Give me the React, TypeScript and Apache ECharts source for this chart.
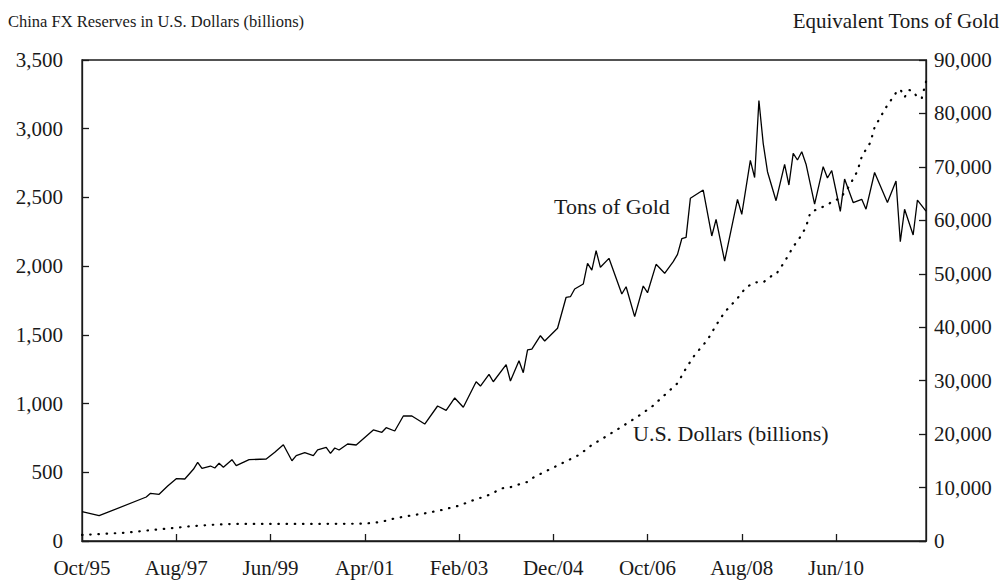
import React, { useEffect, useRef } from "react";
import * as echarts from "echarts";

// Monthly categories Oct/95 .. Mar/12
const MONTHS = ["Jan", "Feb", "Mar", "Apr", "May", "Jun", "Jul", "Aug", "Sep", "Oct", "Nov", "Dec"];
const START_YEAR = 1995;
const START_MONTH = 9; // October
const MONTH_COUNT = 198;
const categories: string[] = [];
for (let i = 0; i < MONTH_COUNT; i++) {
  const k = START_MONTH + i;
  const y = START_YEAR + Math.floor(k / 12);
  categories.push(MONTHS[k % 12] + "/" + String(y % 100).padStart(2, "0"));
}

// Equivalent tons of gold (right axis) – vertices
const goldTons: [string, number][] = [
  ["Oct/95", 5480], ["Feb/96", 4730], ["Jan/97", 8230], ["Feb/97", 8925], ["Apr/97", 8740],
  ["Jun/97", 10290], ["Aug/97", 11660], ["Oct/97", 11600], ["Dec/97", 13415], ["Jan/98", 14725],
  ["Feb/98", 13600], ["Apr/98", 14030], ["May/98", 13660], ["Jun/98", 14540], ["Jul/98", 13790],
  ["Sep/98", 15210], ["Oct/98", 14090], ["Jan/99", 15210], ["May/99", 15340], ["Jul/99", 16600],
  ["Sep/99", 18020], ["Nov/99", 15020], ["Dec/99", 15960], ["Feb/00", 16520], ["Apr/00", 15960],
  ["May/00", 17030], ["Jul/00", 17530], ["Aug/00", 16410], ["Sep/00", 17400], ["Oct/00", 17030],
  ["Dec/00", 18150], ["Feb/01", 17960], ["Jun/01", 20770], ["Aug/01", 20340], ["Sep/01", 21200],
  ["Nov/01", 20580], ["Jan/02", 23390], ["Mar/02", 23390], ["Jun/02", 21890], ["Sep/02", 25260],
  ["Nov/02", 24450], ["Jan/03", 26760], ["Mar/03", 25020], ["Jun/03", 29800], ["Jul/03", 29000],
  ["Sep/03", 31190], ["Oct/03", 29800], ["Jan/04", 32990], ["Feb/04", 29940], ["Apr/04", 33730],
  ["May/04", 31490], ["Jun/04", 35740], ["Jul/04", 35920], ["Sep/04", 38410], ["Oct/04", 37420],
  ["Jan/05", 39800], ["Mar/05", 45600], ["Apr/05", 45710], ["May/05", 47150], ["Jul/05", 48080],
  ["Aug/05", 51960], ["Sep/05", 50700], ["Oct/05", 54310], ["Nov/05", 51210], ["Jan/06", 52890],
  ["Apr/06", 46210], ["May/06", 47580], ["Jul/06", 41970], ["Sep/06", 47710], ["Oct/06", 46460],
  ["Dec/06", 51770], ["Feb/07", 50090], ["Apr/07", 52260], ["May/07", 53640], ["Jun/07", 56560],
  ["Jul/07", 56820], ["Aug/07", 64120], ["Nov/07", 65670], ["Jan/08", 57070], ["Feb/08", 60190],
  ["Apr/08", 52390], ["Jul/08", 63930], ["Aug/08", 61130], ["Oct/08", 71230], ["Nov/08", 68010],
  ["Dec/08", 82420], ["Jan/09", 74410], ["Feb/09", 69100], ["Apr/09", 63670], ["Jun/09", 70480],
  ["Jul/09", 66610], ["Aug/09", 72540], ["Sep/09", 71290], ["Oct/09", 72840], ["Nov/09", 70500],
  ["Jan/10", 63020], ["Mar/10", 70030], ["Apr/10", 67920], ["May/10", 69320], ["Jun/10", 65490],
  ["Jul/10", 61690], ["Aug/10", 67730], ["Oct/10", 63330], ["Dec/10", 63930], ["Jan/11", 62080],
  ["Mar/11", 68950], ["Jun/11", 63330], ["Aug/11", 67360], ["Sep/11", 56000], ["Oct/11", 62060],
  ["Dec/11", 57250], ["Jan/12", 63800], ["Mar/12", 61740],
];

// FX reserves in U.S. dollars, billions (left axis)
const usdBillions: [string, number][] = [
  ["Oct/95", 44], ["Aug/96", 60], ["Apr/97", 85], ["Aug/97", 97], ["Dec/97", 109],
  ["May/98", 119], ["Sep/98", 124], ["Sep/99", 124], ["Feb/00", 124], ["Apr/01", 126],
  ["Aug/01", 140], ["Nov/01", 165], ["Mar/02", 187], ["Jun/02", 201], ["Oct/02", 226],
  ["Feb/03", 257], ["May/03", 293], ["Sep/03", 335], ["Dec/03", 383], ["Feb/04", 391],
  ["Apr/04", 412], ["Jun/04", 430], ["Jul/04", 456], ["Oct/04", 504], ["Feb/05", 565],
  ["Jun/05", 626], ["Sep/05", 699], ["Dec/05", 755], ["Apr/06", 832], ["Aug/06", 912],
  ["Nov/06", 977], ["Feb/07", 1062], ["May/07", 1148], ["Jul/07", 1257], ["Sep/07", 1353],
  ["Dec/07", 1463], ["Feb/08", 1570], ["Apr/08", 1665], ["Jul/08", 1766], ["Sep/08", 1846],
  ["Nov/08", 1882], ["Jan/09", 1882], ["Mar/09", 1930], ["Apr/09", 1941], ["Jun/09", 2032],
  ["Aug/09", 2141], ["Oct/09", 2227], ["Nov/09", 2287], ["Dec/09", 2390], ["Feb/10", 2420],
  ["Apr/10", 2445], ["May/10", 2469], ["Jul/10", 2494], ["Aug/10", 2537], ["Sep/10", 2578],
  ["Nov/10", 2692], ["Dec/10", 2796], ["Jan/11", 2850], ["Feb/11", 2898], ["Mar/11", 3010],
  ["May/11", 3119], ["Jun/11", 3172], ["Jul/11", 3216], ["Aug/11", 3262], ["Sep/11", 3287],
  ["Oct/11", 3229], ["Nov/11", 3282], ["Dec/11", 3274], ["Jan/12", 3226], ["Feb/12", 3221],
  ["Mar/12", 3342],
];

const LEFT_TITLE = "China FX Reserves in U.S. Dollars (billions)";
const RIGHT_TITLE = "Equivalent Tons of Gold";
const GOLD_LABEL = "Tons of Gold";
const USD_LABEL = "U.S. Dollars (billions)";

const FONT = '"Liberation Serif", "Times New Roman", serif';
const INK = "#1a1a1a";

export default function App() {
  const ref = useRef<HTMLDivElement>(null);
  useEffect(() => {
    if (!ref.current) return;
    const chart = echarts.init(ref.current, null, { renderer: "svg" });
    const fmt = (v: number) => v.toLocaleString("en-US");
    const axisLine = { show: true, lineStyle: { color: INK, width: 1.3 } };
    const tick = { show: true, inside: true, length: 7, lineStyle: { color: INK, width: 1.3 } };
    const label = { color: INK, fontFamily: FONT, fontSize: 21 };
    chart.setOption({
      animation: false,
      backgroundColor: "#ffffff",
      grid: { left: 82, right: 81, top: 60, bottom: 45, show: true, borderColor: INK, borderWidth: 1.3, backgroundColor: "transparent" },
      xAxis: {
        type: "category",
        data: categories,
        boundaryGap: false,
        axisLine,
        axisTick: { ...tick, interval: 21 },
        axisLabel: { ...label, interval: 21, margin: 16 },
        splitLine: { show: false },
      },
      yAxis: [
        {
          type: "value", position: "left", min: 0, max: 3500, interval: 500,
          axisLine, axisTick: tick,
          axisLabel: { ...label, margin: 19, formatter: fmt },
          splitLine: { show: false },
        },
        {
          type: "value", position: "right", min: 0, max: 90000, interval: 10000,
          axisLine, axisTick: tick,
          axisLabel: { ...label, margin: 8, formatter: fmt },
          splitLine: { show: false },
        },
      ],
      series: [
        {
          name: GOLD_LABEL, type: "line", yAxisIndex: 1, data: goldTons,
          symbol: "none", connectNulls: true,
          lineStyle: { color: "#000", width: 1.3 },
        },
        {
          name: USD_LABEL, type: "line", yAxisIndex: 0, data: usdBillions,
          symbol: "none", connectNulls: true,
          lineStyle: { color: "#000", width: 2.2, type: [0.5, 7.7], cap: "round" },
        },
      ],
      graphic: [
        { type: "text", x: 8, y: 21, style: { text: LEFT_TITLE, fill: INK, fontFamily: FONT, fontSize: 16.5, verticalAlign: "middle", align: "left" } },
        { type: "text", x: 999, y: 21, style: { text: RIGHT_TITLE, fill: INK, fontFamily: FONT, fontSize: 21, verticalAlign: "middle", align: "right" } },
        { type: "text", x: 554, y: 206, style: { text: GOLD_LABEL, fill: INK, fontFamily: FONT, fontSize: 22, verticalAlign: "middle", align: "left" } },
        { type: "text", x: 633, y: 433, style: { text: USD_LABEL, fill: INK, fontFamily: FONT, fontSize: 22, verticalAlign: "middle", align: "left" } },
      ],
    });
    return () => chart.dispose();
  }, []);
  return <div ref={ref} style={{ position: "fixed", left: 0, top: 0, width: 1007, height: 586 }} />;
}
